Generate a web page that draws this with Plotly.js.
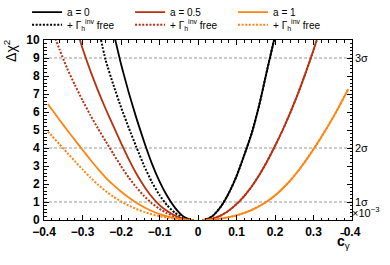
<!DOCTYPE html>
<html>
<head>
<meta charset="utf-8">
<script src="https://cdn.plot.ly/plotly-3.0.1.min.js"></script>
<style>html,body{margin:0;padding:0;background:#fff;}#chart{width:390px;height:265px;}</style>
</head>
<body>
<div id="chart"></div>
<script>
// a = 0, solid
const xA0 = [-0.22,-0.20,-0.18,-0.16,-0.14,-0.12,-0.10,-0.08,-0.06,-0.04,-0.02,-0.012,null,0.012,0.02,0.04,0.06,0.08,0.10,0.12,0.14,0.16,0.18,0.20];
const yA0 = [10.47,8.67,7.09,5.66,4.35,3.15,2.15,1.33,0.69,0.23,0.02,0.0,null,0.0,0.02,0.26,0.76,1.49,2.43,3.60,4.85,6.47,8.38,10.22];
// a = 0, Gamma free
const xA0f = [-0.26,-0.24,-0.22,-0.20,-0.18,-0.16,-0.14,-0.12,-0.10,-0.08,-0.06,-0.04,-0.02,-0.012,null,0.012,0.02,0.04,0.06,0.08,0.10,0.12,0.14,0.16,0.18,0.20];
const yA0f = [10.79,8.89,7.52,6.27,5.13,4.05,3.01,2.11,1.38,0.81,0.40,0.14,0.01,0.0,null,0.0,0.02,0.26,0.76,1.49,2.43,3.60,4.85,6.47,8.38,10.22];
// a = 0.5, solid
const xA05 = [-0.32,-0.30,-0.28,-0.26,-0.24,-0.22,-0.20,-0.18,-0.16,-0.14,-0.12,-0.10,-0.08,-0.06,-0.04,-0.02,-0.012,null,0.012,0.02,0.04,0.06,0.08,0.10,0.12,0.14,0.16,0.18,0.20,0.22,0.24,0.26,0.28,0.30,0.32];
const yA05 = [10.94,9.54,8.31,7.20,6.18,5.23,4.28,3.38,2.57,1.88,1.29,0.83,0.50,0.25,0.08,0.007,0.0,null,0.0,0.007,0.09,0.26,0.52,0.88,1.33,1.88,2.53,3.28,4.11,5.00,5.98,7.04,8.20,9.44,10.77];
// a = 0.5, Gamma free
const xA05f = [-0.38,-0.36,-0.34,-0.32,-0.30,-0.28,-0.26,-0.24,-0.22,-0.20,-0.18,-0.16,-0.14,-0.12,-0.10,-0.08,-0.06,-0.04,-0.02,-0.012,null,0.012,0.02,0.04,0.06,0.08,0.10,0.12,0.14,0.16,0.18,0.20,0.22,0.24,0.26,0.28,0.30,0.32];
const yA05f = [10.64,9.49,8.43,7.51,6.65,5.84,5.09,4.38,3.68,2.99,2.36,1.81,1.33,0.93,0.62,0.37,0.18,0.06,0.005,0.0,null,0.0,0.007,0.09,0.26,0.52,0.88,1.33,1.88,2.53,3.28,4.11,5.00,5.98,7.04,8.20,9.44,10.77];
// a = 1, solid
const xA1 = [-0.39,-0.38,-0.36,-0.34,-0.32,-0.30,-0.28,-0.26,-0.24,-0.22,-0.20,-0.18,-0.16,-0.14,-0.12,-0.10,-0.08,-0.06,-0.04,-0.02,-0.012,null,0.012,0.02,0.04,0.06,0.08,0.10,0.12,0.14,0.16,0.18,0.20,0.22,0.24,0.26,0.28,0.30,0.32,0.34,0.36,0.38,0.39];
const yA1 = [6.45,6.15,5.57,5.00,4.45,3.90,3.36,2.84,2.36,1.95,1.58,1.25,0.96,0.71,0.50,0.33,0.20,0.10,0.033,0.003,0.0,null,0.0,0.003,0.03,0.08,0.16,0.26,0.39,0.56,0.78,1.04,1.36,1.75,2.20,2.72,3.30,3.93,4.60,5.30,6.05,6.85,7.27];
// a = 1, Gamma free
const xA1f = [-0.39,-0.38,-0.36,-0.34,-0.32,-0.30,-0.28,-0.26,-0.24,-0.22,-0.20,-0.18,-0.16,-0.14,-0.12,-0.10,-0.08,-0.06,-0.04,-0.02,-0.012,null,0.012,0.02,0.04,0.06,0.08,0.10,0.12,0.14,0.16,0.18,0.20,0.22,0.24,0.26,0.28,0.30,0.32,0.34,0.36,0.38,0.39];
const yA1f = [4.91,4.68,4.21,3.74,3.27,2.81,2.37,1.97,1.61,1.30,1.03,0.80,0.61,0.45,0.32,0.21,0.13,0.062,0.022,0.002,0.0,null,0.0,0.003,0.03,0.08,0.16,0.26,0.39,0.56,0.78,1.04,1.36,1.75,2.20,2.72,3.30,3.93,4.60,5.30,6.05,6.85,7.27];

const sigmaLevels = [1, 4, 9];
const sigmaLabels = ['1σ', '2σ', '3σ'];
const names = ['a = 0', 'a = 0.5', 'a = 1'];
const freeName = '+ Γ<sub>h</sub><sup>inv</sup> free';
const colors = ['#000000', '#b8300f', '#ff8410'];

const FONT = 'Liberation Sans, Arial, Helvetica, sans-serif';

function tr(x, y, name, color, dotted, leg) {
  return {x: x, y: y, type: 'scatter', mode: 'lines', name: name, legend: leg,
    connectgaps: false,
    line: {color: color, width: dotted ? 2 : 1.8, dash: dotted ? '2px,1.6px' : 'solid', shape: 'spline', smoothing: 0.5},
    hoverinfo: 'skip'};
}

const data = [
  tr(xA0f, yA0f, freeName, colors[0], true, 'legend2'),
  tr(xA05f, yA05f, freeName, colors[1], true, 'legend2'),
  tr(xA1f, yA1f, freeName, colors[2], true, 'legend2'),
  tr(xA0, yA0, names[0], colors[0], false, 'legend'),
  tr(xA05, yA05, names[1], colors[1], false, 'legend'),
  tr(xA1, yA1, names[2], colors[2], false, 'legend')
];

const shapes = sigmaLevels.map(v => ({type: 'line', xref: 'paper', x0: 0, x1: 1, yref: 'y', y0: v, y1: v,
  line: {color: '#999999', width: 1, dash: '3px,2px'}, layer: 'below'}));

const annotations = sigmaLevels.map((v, i) => ({xref: 'paper', x: 1.003, xanchor: 'left', yref: 'y', y: v, yanchor: 'middle',
  text: sigmaLabels[i], showarrow: false, font: {family: FONT, size: 11, color: '#000'}}));
annotations.push({xref: 'paper', x: -0.11, yref: 'paper', y: 1.012, yanchor: 'top', xanchor: 'center', textangle: -90,
  text: 'Δχ<sup>2</sup>', showarrow: false, font: {family: FONT, size: 14, color: '#000'}});
annotations.push({xref: 'paper', x: 1.0, xanchor: 'right', yref: 'paper', y: -0.055, yanchor: 'top',
  text: '<b>c\u0304</b><sub>γ</sub>', showarrow: false, font: {family: FONT, size: 14, color: '#000'}});
annotations.push({xref: 'paper', x: 0.995, xanchor: 'left', yref: 'paper', y: 0.045, yanchor: 'middle',
  text: '×10<sup>−3</sup>', showarrow: false, font: {family: FONT, size: 11, color: '#000'}});

const axisCommon = {showgrid: false, zeroline: false, showline: true, linecolor: '#000', linewidth: 1,
  mirror: 'allticks', ticks: 'inside', ticklen: 5, tickcolor: '#000', tickwidth: 1,
  tickfont: {family: FONT, size: 12, color: '#000', weight: 'bold'}};

const legendCommon = {orientation: 'h', xanchor: 'left', yanchor: 'middle',
  entrywidth: 58, entrywidthmode: 'pixels', traceorder: 'normal',
  font: {family: FONT, size: 10, color: '#000'}, bgcolor: 'rgba(0,0,0,0)', borderwidth: 0};

const layout = {
  width: 390, height: 265,
  margin: {l: 44, r: 38, t: 40, b: 45, autoexpand: false},
  paper_bgcolor: '#fff', plot_bgcolor: '#fff',
  font: {family: FONT, color: '#000'},
  showlegend: true,
  legend: Object.assign({}, legendCommon, {x: -0.055, y: 1.155}),
  legend2: Object.assign({}, legendCommon, {x: -0.055, y: 1.085}),
  xaxis: Object.assign({}, axisCommon, {range: [-0.4, 0.4], dtick: 0.1, tick0: 0, ticklabelstandoff: 1,
    minor: {ticks: 'inside', dtick: 0.02, ticklen: 2.5, tickcolor: '#000', tickwidth: 1}}),
  yaxis: Object.assign({}, axisCommon, {range: [0, 10], dtick: 1, tick0: 0, ticklabelstandoff: 1,
    minor: {ticks: 'inside', dtick: 0.2, ticklen: 2.5, tickcolor: '#000', tickwidth: 1}}),
  shapes: shapes,
  annotations: annotations
};

Plotly.newPlot('chart', data, layout, {staticPlot: true, displayModeBar: false});
</script>
</body>
</html>
